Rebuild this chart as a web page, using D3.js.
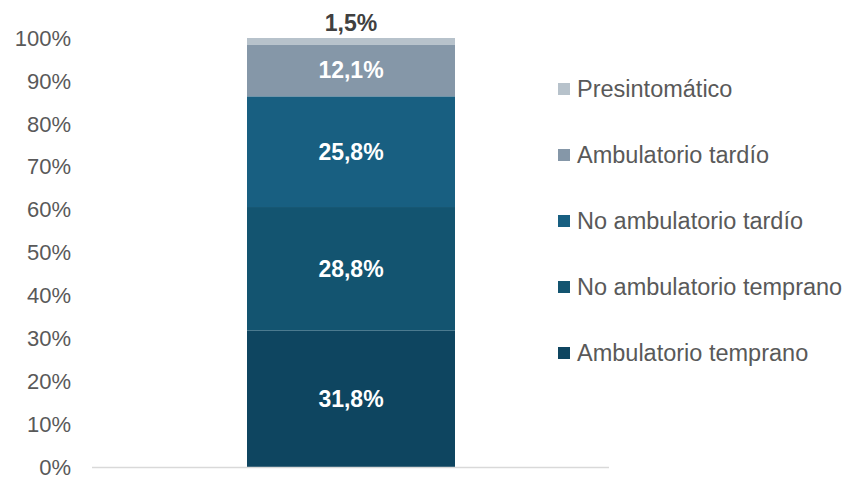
<!DOCTYPE html>
<html>
<head>
<meta charset="utf-8">
<script src="https://cdn.jsdelivr.net/npm/d3@7"></script>
<style>
  html, body { margin: 0; padding: 0; background: #fff; }
  svg { display: block; font-family: Arial, "Liberation Sans", sans-serif; }
</style>
</head>
<body>
<svg id="chart" width="850" height="478"></svg>
<script>
// Stacked composition, bottom to top
const categories = ["Ambulatorio temprano", "No ambulatorio temprano", "No ambulatorio tardío", "Ambulatorio tardío", "Presintomático"];
const values = [31.8, 28.8, 25.8, 12.1, 1.5];
const colors = ["#0e4560", "#135470", "#185f81", "#8597a8", "#b7c2cb"];
const yTicks = [0, 10, 20, 30, 40, 50, 60, 70, 80, 90, 100];

const svg = d3.select("#chart");
const fmt = v => d3.format(".1f")(v).replace(".", ",") + "%";

const y = d3.scaleLinear().domain([0, 100]).range([467, 38]);

// Cumulative stack
let acc = 0;
const segs = values.map((v, i) => {
  const s = { name: categories[i], v, y0: acc, y1: acc + v, color: colors[i] };
  acc += v;
  return s;
});

// Y axis labels (no line, no ticks)
svg.append("g")
  .selectAll("text")
  .data(yTicks)
  .join("text")
  .attr("x", 71)
  .attr("y", d => y(d))
  .attr("dy", "0.35em")
  .attr("text-anchor", "end")
  .attr("font-size", 22)
  .attr("fill", "#595959")
  .text(d => d + "%");

// Bars
const bx = 247, bw = 208;
svg.append("g")
  .selectAll("rect")
  .data(segs)
  .join("rect")
  .attr("x", bx)
  .attr("width", bw)
  .attr("y", d => y(d.y1))
  .attr("height", d => y(d.y0) - y(d.y1))
  .attr("fill", d => d.color);

// Baseline
svg.append("line")
  .attr("x1", 92).attr("x2", 609)
  .attr("y1", y(0) + 0.5).attr("y2", y(0) + 0.5)
  .attr("stroke", "#d9d9d9")
  .attr("stroke-width", 1.5);

// Value labels
svg.append("g")
  .selectAll("text")
  .data(segs)
  .join("text")
  .attr("x", bx + bw / 2)
  .attr("y", d => d.v < 5 ? y(d.y1) - 15 : y((d.y0 + d.y1) / 2))
  .attr("dy", "0.35em")
  .attr("text-anchor", "middle")
  .attr("font-size", 23)
  .attr("font-weight", "bold")
  .attr("fill", d => d.v < 5 ? "#404040" : "#ffffff")
  .text(d => fmt(d.v));

// Legend, top entry is the top of the stack
const legendItems = segs.slice().reverse();
const lg = svg.append("g")
  .selectAll("g")
  .data(legendItems)
  .join("g")
  .attr("transform", (d, i) => `translate(558, ${89 + i * 66})`);
lg.append("rect")
  .attr("x", 0).attr("y", -6)
  .attr("width", 12).attr("height", 12)
  .attr("fill", d => d.color);
lg.append("text")
  .attr("x", 19).attr("y", 0)
  .attr("dy", "0.35em")
  .attr("font-size", 23.5)
  .attr("fill", "#595959")
  .text(d => d.name);
</script>
</body>
</html>
